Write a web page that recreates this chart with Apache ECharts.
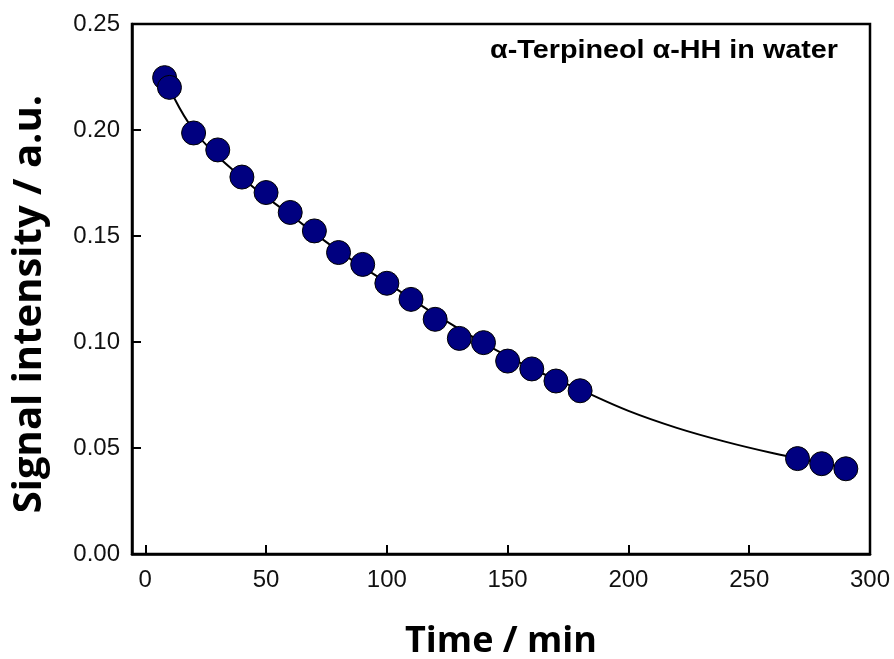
<!DOCTYPE html>
<html>
<head>
<meta charset="utf-8">
<script src="https://cdn.jsdelivr.net/npm/echarts@6/dist/echarts.min.js"></script>
<style>html,body{margin:0;padding:0;background:#fff}#c{width:894px;height:659px}</style>
</head>
<body>
<div id="c"></div>
<script>
// Measured data (time in min, signal intensity in a.u.)
var timeMin = [8, 10, 20, 30, 40, 50, 60, 70, 80, 90, 100, 110, 120, 130, 140, 150, 160, 170, 180, 270, 280, 290];
var signal  = [0.2247, 0.2201, 0.1986, 0.1906, 0.1778, 0.1705, 0.1611, 0.1524, 0.1422, 0.1366, 0.1277, 0.1201, 0.1107, 0.1017, 0.0997, 0.0910, 0.0873, 0.0816, 0.0770, 0.0450, 0.0426, 0.0402];
// Fitted curve
var fitTime   = [8, 20, 40, 60, 80, 100, 120, 140, 160, 180, 200, 220, 240, 260, 280, 290];
var fitSignal = [0.2245, 0.2000, 0.1775, 0.1600, 0.1430, 0.1280, 0.1130, 0.0995, 0.0875, 0.0775, 0.0675, 0.0595, 0.0530, 0.0475, 0.0428, 0.0405];
var xTicks = [0, 50, 100, 150, 200, 250, 300];
var annotation = 'α-Terpineol α-HH in water';

var chart = echarts.init(document.getElementById('c'));
chart.setOption({
  animation: false,
  grid: {left: 132, top: 24, right: 24, bottom: 105, outerBoundsMode: 'none', containLabel: false,
         show: true, borderColor: '#000', borderWidth: 2.5, backgroundColor: 'transparent'},
  xAxis: {
    type: 'value', min: -5.5, max: 300,
    name: 'Time / min', nameLocation: 'middle', nameGap: 70,
    nameTextStyle: {fontFamily: 'Open Sans', fontWeight: 'bold', fontSize: 36, color: '#000'},
    axisLine: {show: true, onZero: false, lineStyle: {color: '#000', width: 2.5}},
    axisTick: {show: true, inside: true, length: 9, lineStyle: {color: '#000', width: 2}, customValues: xTicks},
    axisLabel: {show: true, fontFamily: 'Liberation Sans', fontSize: 24, color: '#111', margin: 14, customValues: xTicks},
    splitLine: {show: false}
  },
  yAxis: {
    type: 'value', min: 0, max: 0.25, interval: 0.05,
    name: 'Signal intensity / a.u.', nameLocation: 'middle', nameGap: 82,
    nameTextStyle: {fontFamily: 'Open Sans', fontWeight: 'bold', fontSize: 40, color: '#000', padding: [0, 30, 0, 0]},
    axisLine: {show: true, onZero: false, lineStyle: {color: '#000', width: 2.5}},
    axisTick: {show: true, inside: true, length: 9, lineStyle: {color: '#000', width: 2}},
    axisLabel: {fontFamily: 'Liberation Sans', fontSize: 24, color: '#111', margin: 12, formatter: function (v) { return v.toFixed(2); }},
    splitLine: {show: false}
  },
  graphic: [{
    type: 'text', x: 838, y: 51, scaleX: 1.15,
    style: {text: annotation, align: 'right', verticalAlign: 'middle', fontFamily: 'Liberation Sans', fontWeight: 'bold', fontSize: 25, fill: '#000'}
  }],
  series: [{
    type: 'line', data: fitTime.map(function (t, i) { return [t, fitSignal[i]]; }),
    smooth: 0.4, showSymbol: false, lineStyle: {color: '#000', width: 2}, z: 1
  }, {
    type: 'scatter', data: timeMin.map(function (t, i) { return [t, signal[i]]; }),
    symbol: 'circle', symbolSize: 24,
    itemStyle: {color: '#000080', borderColor: '#000', borderWidth: 1, opacity: 1}, z: 2
  }]
});
</script>
</body>
</html>
